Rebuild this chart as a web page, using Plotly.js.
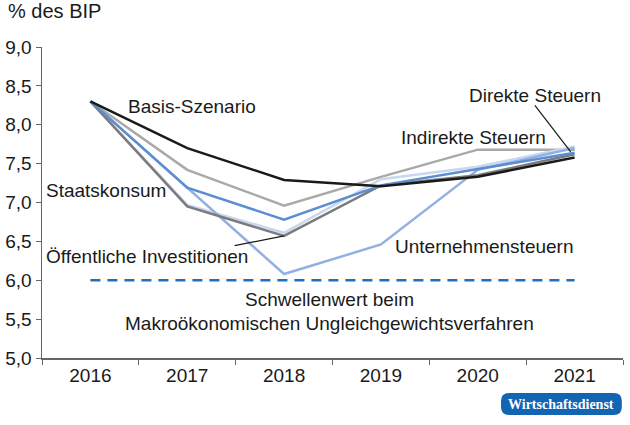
<!DOCTYPE html>
<html>
<head>
<meta charset="utf-8">
<script src="https://cdn.plot.ly/plotly-3.0.1.min.js"></script>
<style>html,body{margin:0;padding:0;background:#fff;}#chart{width:630px;height:425px;}</style>
</head>
<body>
<div id="chart"></div>
<script>
const years = ['2016','2017','2018','2019','2020','2021'];
const basis = [8.30, 7.70, 7.29, 7.21, 7.33, 7.58];
const indirekte = [8.30, 7.42, 6.96, 7.33, 7.68, 7.68];
const staatskonsum = [8.30, 7.19, 6.78, 7.22, 7.43, 7.64];
const oeffInvest = [8.30, 6.95, 6.57, 7.22, 7.35, 7.62];
const direkte = [8.30, 6.97, 6.61, 7.30, 7.46, 7.72];
const unternehmen = [8.30, 7.19, 6.08, 6.46, 7.42, 7.70];
const schwelle = [6.0, 6.0, 6.0, 6.0, 6.0, 6.0];

const FONT = 'Liberation Sans, Arial, Helvetica, sans-serif';
const FS = 19;
function line(y, color, name, extra) {
  return Object.assign({x: years, y: y, type: 'scatter', mode: 'lines', name: name,
    line: {color: color, width: 2.5}, hoverinfo: 'skip'}, extra || {});
}
const traces = [
  line(schwelle, '#1f6fbf', 'Schwellenwert', {line: {color: '#1f6fbf', width: 2.5, dash: '10px,7px'}}),
  line(indirekte, '#a9a9a9', 'Indirekte Steuern'),
  line(direkte, '#c9d8f0', 'Direkte Steuern'),
  line(unternehmen, '#92b1e2', 'Unternehmensteuern'),
  line(oeffInvest, '#7b7b7b', 'Öffentliche Investitionen'),
  line(staatskonsum, '#5a8ed2', 'Staatskonsum'),
  line(basis, '#1a1a1a', 'Basis-Szenario')
];

function txt(text, x, y, xanchor) {
  return {text: text, x: x, y: y, xref: 'x', yref: 'y', showarrow: false,
    xanchor: xanchor || 'center', yanchor: 'middle', font: {family: FONT, size: FS, color: '#1a1a1a'}};
}
const annotations = [
  txt('Basis-Szenario', 1.05, 8.23),
  txt('Staatskonsum', -0.475, 7.15, 'left'),
  txt('Öffentliche Investitionen', -0.475, 6.30, 'left'),
  txt('Direkte Steuern', 4.59, 8.37),
  txt('Indirekte Steuern', 3.96, 7.84),
  txt('Unternehmensteuern', 4.07, 6.44),
  txt('Schwellenwert beim', 2.47, 5.75),
  txt('Makroökonomischen Ungleichgewichtsverfahren', 2.47, 5.45),
  {x: 2, y: oeffInvest[2], xref: 'x', yref: 'y', showarrow: true, arrowhead: 0, arrowwidth: 1.2,
   arrowcolor: '#1a1a1a', ax: -51, ay: 10, text: ''},
  {x: 4.96, y: 7.65, xref: 'x', yref: 'y', showarrow: true, arrowhead: 0, arrowwidth: 1.2,
   arrowcolor: '#1a1a1a', ax: -37, ay: -48, text: ''},
  {text: '% des BIP', xref: 'paper', yref: 'paper', x: -0.062, y: 1.115, xanchor: 'left', yanchor: 'middle',
   showarrow: false, font: {family: FONT, size: 20, color: '#1a1a1a'}},
  {text: '<b>Wirtschaftsdienst</b>', xref: 'paper', yref: 'paper', x: 0.894, y: -0.148, xanchor: 'center', yanchor: 'middle',
   showarrow: false, font: {family: 'Liberation Serif, DejaVu Serif, serif', size: 14, color: '#ffffff'}}
];

// rounded badge (paper coords)
const bx0 = 0.790, bx1 = 0.998, by0 = -0.183, by1 = -0.1125, rx = 0.0138, ry = 0.0257;
const badgePath = `M ${bx0+rx},${by1} L ${bx1-rx},${by1} Q ${bx1},${by1} ${bx1},${by1-ry} L ${bx1},${by0+ry} Q ${bx1},${by0} ${bx1-rx},${by0} L ${bx0+rx},${by0} Q ${bx0},${by0} ${bx0},${by0+ry} L ${bx0},${by1-ry} Q ${bx0},${by1} ${bx0+rx},${by1} Z`;

const layout = {
  width: 630, height: 425,
  margin: {l: 42, r: 7, t: 47, b: 67},
  paper_bgcolor: '#ffffff', plot_bgcolor: '#ffffff',
  showlegend: false,
  separators: ',.',
  font: {family: FONT, size: FS, color: '#1a1a1a'},
  xaxis: {type: 'category', range: [-0.5, 5.5], showgrid: false, zeroline: false,
    showline: true, linecolor: '#666666', linewidth: 1.5, ticks: 'outside', tickson: 'boundaries',
    ticklen: 5, tickcolor: '#666666', tickfont: {family: FONT, size: FS, color: '#1a1a1a'}},
  yaxis: {range: [5, 9], dtick: 0.5, tick0: 5, tickformat: '.1f', showgrid: false, zeroline: false,
    showline: true, linecolor: '#666666', linewidth: 1.5, ticks: 'outside', ticklen: 5, tickcolor: '#666666',
    tickfont: {family: FONT, size: FS, color: '#1a1a1a'}},
  shapes: [{type: 'path', xref: 'paper', yref: 'paper', path: badgePath, fillcolor: '#1464b4', line: {width: 0}, layer: 'above'}],
  annotations: annotations
};
Plotly.newPlot('chart', traces, layout, {displayModeBar: false, staticPlot: true});
</script>
</body>
</html>
